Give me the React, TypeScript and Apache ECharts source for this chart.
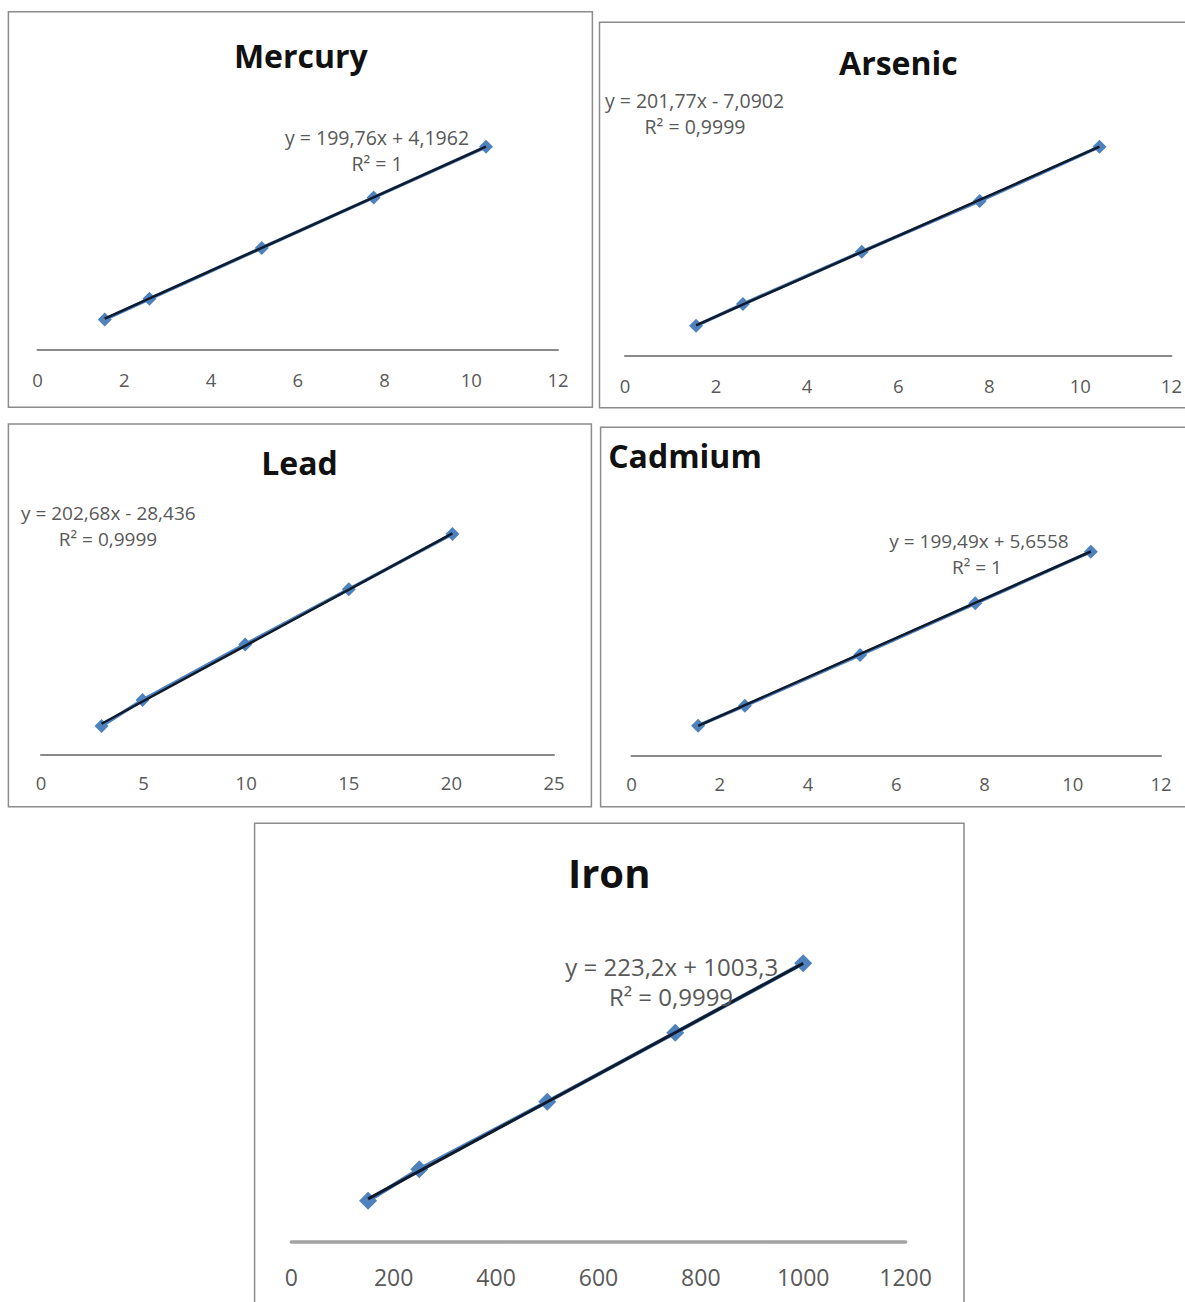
import React, { useEffect, useRef } from "react";
import * as echarts from "echarts";

// ---- data ----
const titles = ["Mercury", "Arsenic", "Lead", "Cadmium", "Iron"];

const mercuryX = [1.55, 2.58, 5.17, 7.75, 10.34];
const mercuryY = [305, 515, 1035, 1550, 2068];

const arsenicX = [1.56, 2.59, 5.2, 7.79, 10.42];
const arsenicY = [303, 520, 1044, 1552, 2095];

const leadX = [2.95, 4.95, 9.95, 15.0, 20.05];
const leadY = [530, 1000, 2015, 3020, 4025];

const cadmiumX = [1.51, 2.57, 5.18, 7.79, 10.41];
const cadmiumY = [309, 512, 1029, 1555, 2080];

const ironX = [150, 250, 500, 750, 1000];
const ironY = [33000, 58300, 112700, 168300, 224200];

const slopes = [199.76, 201.77, 202.68, 199.49, 223.2];
const intercepts = [4.1962, -7.0902, -28.436, 5.6558, 1003.3];

const equationLabels = [
  "y = 199,76x + 4,1962",
  "y = 201,77x - 7,0902",
  "y = 202,68x - 28,436",
  "y = 199,49x + 5,6558",
  "y = 223,2x + 1003,3",
];
const r2Labels = ["R² = 1", "R² = 0,9999", "R² = 0,9999", "R² = 1", "R² = 0,9999"];

const xMaxes = [12, 12, 25, 12, 1200];
const xIntervals = [2, 2, 5, 2, 200];
const yMaxes = [2500, 2500, 5000, 2500, 250000];

// ---- layout (positions / styles only) ----
const layout = [
  {
    box: [8.4, 11.7, 584, 395.6],
    grid: { left: 37.5, top: 104.5, width: 520.5, height: 244.8 },
    title: { x: 300.8, y: 55, align: "center", size: 32 },
    eq: { x: 377, y: 137, r2x: 377, r2y: 163.5, size: 19.5 },
    tick: { size: 18.5, margin: 21 },
    marker: 14, axisW: 2, axisC: "#8a8a8a", trendW: 2.5,
  },
  {
    box: [599.5, 22.3, 600, 385.4],
    grid: { left: 625, top: 106.3, width: 547.5, height: 249.7 },
    title: { x: 898.4, y: 62.5, align: "center", size: 32 },
    eq: { x: 694.5, y: 100, r2x: 695, r2y: 126, size: 19.5 },
    tick: { size: 18.5, margin: 20 },
    marker: 14, axisW: 2, axisC: "#8a8a8a", trendW: 2.5,
  },
  {
    box: [8.4, 424, 583, 382.7],
    grid: { left: 41, top: 480.5, width: 513, height: 274.5 },
    title: { x: 299.5, y: 462.5, align: "center", size: 32 },
    eq: { x: 108.3, y: 513, r2x: 108, r2y: 539, size: 19 },
    tick: { size: 18.5, margin: 18 },
    marker: 14, axisW: 2, axisC: "#8a8a8a", trendW: 2.5,
  },
  {
    box: [600.6, 427.3, 600, 379.4],
    grid: { left: 631.5, top: 510.5, width: 529.5, height: 245.5 },
    title: { x: 608.2, y: 455, align: "left", size: 32 },
    eq: { x: 979, y: 541, r2x: 977, r2y: 567, size: 19 },
    tick: { size: 18.5, margin: 18 },
    marker: 14, axisW: 2, axisC: "#8a8a8a", trendW: 2.5,
  },
  {
    box: [254.6, 823.3, 709.4, 500],
    grid: { left: 291.3, top: 931.3, width: 614.3, height: 310.4 },
    title: { x: 609.2, y: 872.5, align: "center", size: 40 },
    eq: { x: 671.7, y: 966.7, r2x: 671, r2y: 996.7, size: 24 },
    tick: { size: 23, margin: 24 },
    marker: 18, axisW: 3.5, axisC: "#a3a3a3", trendW: 3,
  },
];

const seriesX = [mercuryX, arsenicX, leadX, cadmiumX, ironX];
const seriesY = [mercuryY, arsenicY, leadY, cadmiumY, ironY];

const FONT = "'Open Sans', 'DejaVu Sans', sans-serif";

function buildOption() {
  const grids: any[] = [];
  const xAxes: any[] = [];
  const yAxes: any[] = [];
  const series: any[] = [];
  const graphics: any[] = [];

  titles.forEach((title, i) => {
    const L = layout[i];
    grids.push({ ...L.grid, containLabel: false });
    xAxes.push({
      type: "value",
      gridIndex: i,
      min: 0,
      max: xMaxes[i],
      interval: xIntervals[i],
      axisLine: { show: true, onZero: true, lineStyle: { color: L.axisC, width: L.axisW } },
      axisTick: { show: false },
      splitLine: { show: false },
      axisLabel: {
        color: "#595959",
        fontSize: L.tick.size,
        fontFamily: FONT,
        margin: L.tick.margin,
        showMinLabel: true,
        showMaxLabel: true,
        formatter: (v: number) => String(v),
      },
    });
    yAxes.push({
      type: "value",
      gridIndex: i,
      min: 0,
      max: yMaxes[i],
      show: false,
      splitLine: { show: false },
    });

    const xs = seriesX[i];
    const ys = seriesY[i];
    const pts = xs.map((x, k) => [x, ys[k]]);
    series.push({
      type: "line",
      xAxisIndex: i,
      yAxisIndex: i,
      data: pts,
      symbol: "diamond",
      symbolSize: L.marker,
      itemStyle: { color: "#4F81BD" },
      lineStyle: { color: "#4F81BD", width: L.trendW + 1 },
      z: 2,
    });
    const x0 = xs[0];
    const x1 = xs[xs.length - 1];
    series.push({
      type: "line",
      xAxisIndex: i,
      yAxisIndex: i,
      data: [
        [x0, slopes[i] * x0 + intercepts[i]],
        [x1, slopes[i] * x1 + intercepts[i]],
      ],
      symbol: "none",
      lineStyle: { color: "#0f1a2c", width: L.trendW },
      z: 3,
    });

    const [bx, by, bw, bh] = L.box;
    graphics.push({
      type: "rect",
      shape: { x: bx, y: by, width: bw, height: bh },
      style: { fill: "none", stroke: "#8c8c8c", lineWidth: 1.5 },
      z: -1,
      silent: true,
    });
    graphics.push({
      type: "text",
      x: L.title.x,
      y: L.title.y,
      style: {
        text: title,
        fill: "#111111",
        fontSize: L.title.size,
        fontWeight: "bold",
        fontFamily: FONT,
        align: L.title.align,
        verticalAlign: "middle",
      },
      z: 10,
    });
    graphics.push({
      type: "text",
      x: L.eq.x,
      y: L.eq.y,
      style: {
        text: equationLabels[i],
        fill: "#595959",
        fontSize: L.eq.size,
        lineHeight: L.eq.size,
        fontFamily: FONT,
        align: "center",
        verticalAlign: "middle",
      },
      z: 10,
    });
    graphics.push({
      type: "text",
      x: L.eq.r2x,
      y: L.eq.r2y,
      style: {
        text: r2Labels[i],
        fill: "#595959",
        fontSize: L.eq.size,
        lineHeight: L.eq.size,
        fontFamily: FONT,
        align: "center",
        verticalAlign: "middle",
      },
      z: 10,
    });
  });

  return {
    animation: false,
    backgroundColor: "#ffffff",
    grid: grids,
    xAxis: xAxes,
    yAxis: yAxes,
    series,
    graphic: graphics,
  };
}

export default function App() {
  const ref = useRef<HTMLDivElement>(null);
  useEffect(() => {
    document.body.style.margin = "0";
    if (!ref.current) return;
    const chart = echarts.init(ref.current, null, { renderer: "svg" });
    chart.setOption(buildOption() as any);
    return () => chart.dispose();
  }, []);
  return <div ref={ref} style={{ width: 1185, height: 1302, background: "#fff" }} />;
}
